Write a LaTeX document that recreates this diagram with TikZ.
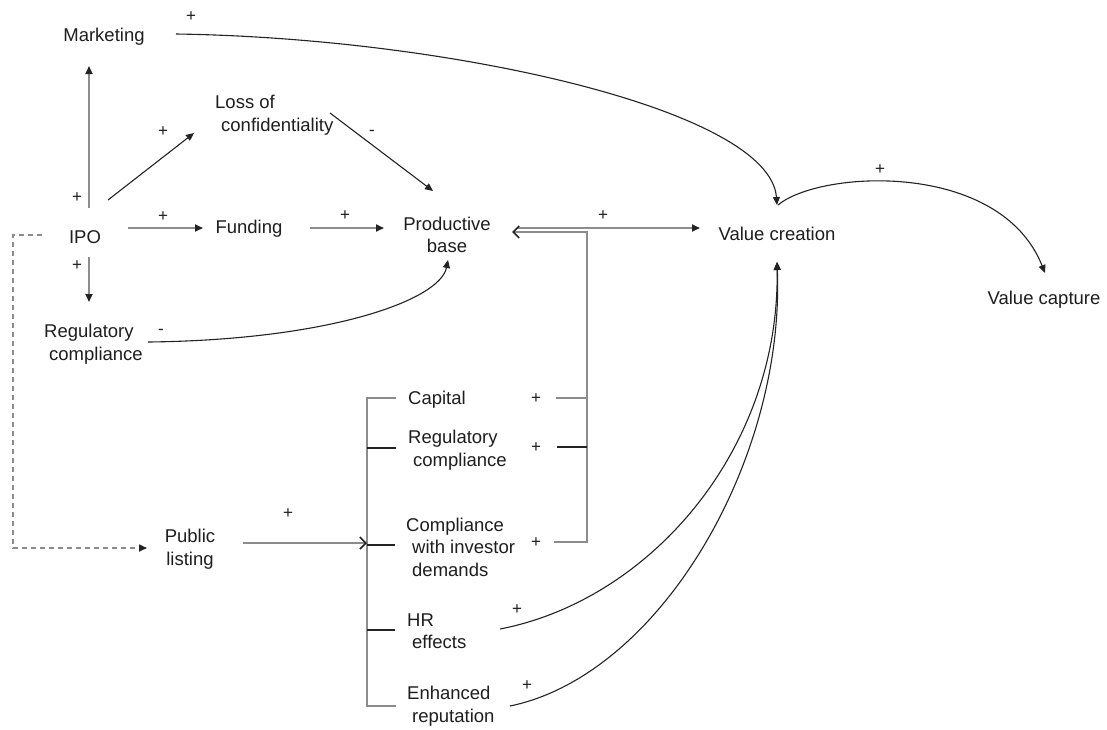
\documentclass[tikz,border=0pt]{standalone}
\usepackage{fontspec}
\setmainfont{Liberation Sans}
\usetikzlibrary{arrows.meta}
\definecolor{gline}{RGB}{140,140,140}
\definecolor{dline}{RGB}{35,35,35}
\definecolor{txt}{RGB}{30,30,30}
\tikzset{
  lbl/.style={inner sep=0pt, text=txt, font=\fontsize{18.5}{22.5}\selectfont},
  lblw/.style={lbl, align=left, anchor=west},
  lblc/.style={lbl, align=center},
  sgn/.style={inner sep=0pt, text=txt, font=\fontsize{17}{17}\selectfont},
  fa/.style={-{Triangle[length=8pt,width=7pt,color=dline]}},
  oa/.style={-{Straight Barb[length=6pt,width=12pt,color=dline,line width=1.6pt]}},
  gl/.style={draw=gline, line width=1.8pt},
  dl/.style={draw=dline, line width=1.1pt},
  bk/.style={draw=dline, line width=1.8pt},
  dsh/.style={draw=gline, line width=1.6pt, dash pattern=on 5pt off 4pt},
}
\begin{document}
\begin{tikzpicture}[x=1pt,y=-1pt]
\useasboundingbox[fill=white] (0,0) rectangle (1107,729);
% nodes
\node[lblc] (mkt) at (104,37) {Marketing};
\node[lblw] (loss) at (215,115) {Loss of\\\hspace*{6pt}confidentiality};
\node[lblc] (ipo) at (85,237) {IPO};
\node[lblc] (fund) at (249,229) {Funding};
\node[lblc] (prod) at (447,235) {Productive\\base};
\node[lblc] (vc) at (777,234) {Value creation};
\node[lblc] (vcap) at (1044,300) {Value capture};
\node[lblw] (reg1) at (44,344) {Regulatory\\\hspace*{5pt}compliance};
\node[lblw] (cap) at (408,400) {Capital};
\node[lblw] (reg2) at (408,450) {Regulatory\\\hspace*{5pt}compliance};
\node[lblw] (cinv) at (406,547) {Compliance\\\hspace*{6pt}with investor\\\hspace*{6pt}demands};
\node[lblw] (hr) at (407,631) {HR\\\hspace*{5pt}effects};
\node[lblw] (enh) at (407,706) {Enhanced\\\hspace*{5pt}reputation};
\node[lblc] (pub) at (190,549) {Public\\listing};
% IPO connectors
\draw[gl,fa] ([shift={(4,-29)}]ipo.center) -- ([shift={(-15,29)}]mkt.center);
\draw[dl,fa] ([shift={(23,-37)}]ipo.center) -- ([shift={(-21,18)}]loss.west);
\draw[gl,fa] ([shift={(43,-9)}]ipo.center) -- ([shift={(-46,-1)}]fund.center);
\draw[gl,fa] ([shift={(4,20)}]ipo.center) -- ([shift={(45,-42)}]reg1.west);
\draw[dsh,fa] ([shift={(-43,-2)}]ipo.center) -- ++(-29,0) |- ([shift={(-43,-1)}]pub.center);
% to productive base
\draw[dl,fa] ([shift={(115,-2)}]loss.west) -- ([shift={(-14,-44)}]prod.center);
\draw[gl,fa] ([shift={(61,-1)}]fund.center) -- ([shift={(-63,-7)}]prod.center);
\draw[dl,fa] ([shift={(104,-2)}]reg1.west) .. controls +(182,-2) and +(-8,40) .. ([shift={(1,25)}]prod.center);
\draw[gl,fa] ([shift={(70,-7)}]prod.center) -- ([shift={(-77,-6)}]vc.center);
% right bracket
\draw[gl,oa] ([shift={(148,-5)}]cinv.west) -| ([shift={(140,-3)}]prod.center) -- ([shift={(65,-3)}]prod.center);
\draw[gl] ([shift={(148,-2)}]cap.west) -- ++(31,0);
\draw[bk] ([shift={(149,-3)}]reg2.west) -- ++(30,0);
% left bracket
\draw[gl] ([shift={(-12,-2)}]cap.west) -- ++(-29,0) |- ([shift={(-11,0)}]enh.west);
\draw[bk] ([shift={(-12,-2)}]reg2.west) -- ++(-29,0);
\draw[bk] ([shift={(-11,-2)}]cinv.west) -- ++(-28,0);
\draw[bk] ([shift={(-12,-1)}]hr.west) -- ++(-28,0);
% public listing
\draw[gl,oa] ([shift={(53,-6)}]pub.center) -- ([shift={(-39,-4)}]cinv.west);
% curves to value creation
\draw[dl,fa] ([shift={(72,-3)}]mkt.center) .. controls +(274,4) and +(-7,-95) .. ([shift={(0,-29)}]vc.center);
\draw[dl,fa] ([shift={(1,-29)}]vc.center) .. controls +(42,-35) and +(-45,-113) .. ([shift={(1,-27)}]vcap.center);
\draw[dl,fa] ([shift={(93,-2)}]hr.west) .. controls +(150,-29) and +(3,188) .. ([shift={(0,28)}]vc.center);
\draw[dl,fa] ([shift={(103,0)}]enh.west) .. controls +(150,-31) and +(8,198) .. ([shift={(0,28)}]vc.center);
% signs
\node[sgn] (s1) at (191,17) {+};
\node[sgn] (s2) at (77,198) {+};
\node[sgn] (s3) at (163,132) {+};
\node[sgn] (s4) at (372,133) {-};
\node[sgn] (s5) at (163,217) {+};
\node[sgn] (s6) at (345,216) {+};
\node[sgn] (s7) at (77,266) {+};
\node[sgn] (s8) at (161,332) {-};
\node[sgn] (s9) at (603,216) {+};
\node[sgn] (s10) at (880,170) {+};
\node[sgn] (s11) at (536,399) {+};
\node[sgn] (s12) at (536,448) {+};
\node[sgn] (s13) at (536,543) {+};
\node[sgn] (s14) at (288,514) {+};
\node[sgn] (s15) at (517,610) {+};
\node[sgn] (s16) at (527,686) {+};
\end{tikzpicture}
\end{document}
